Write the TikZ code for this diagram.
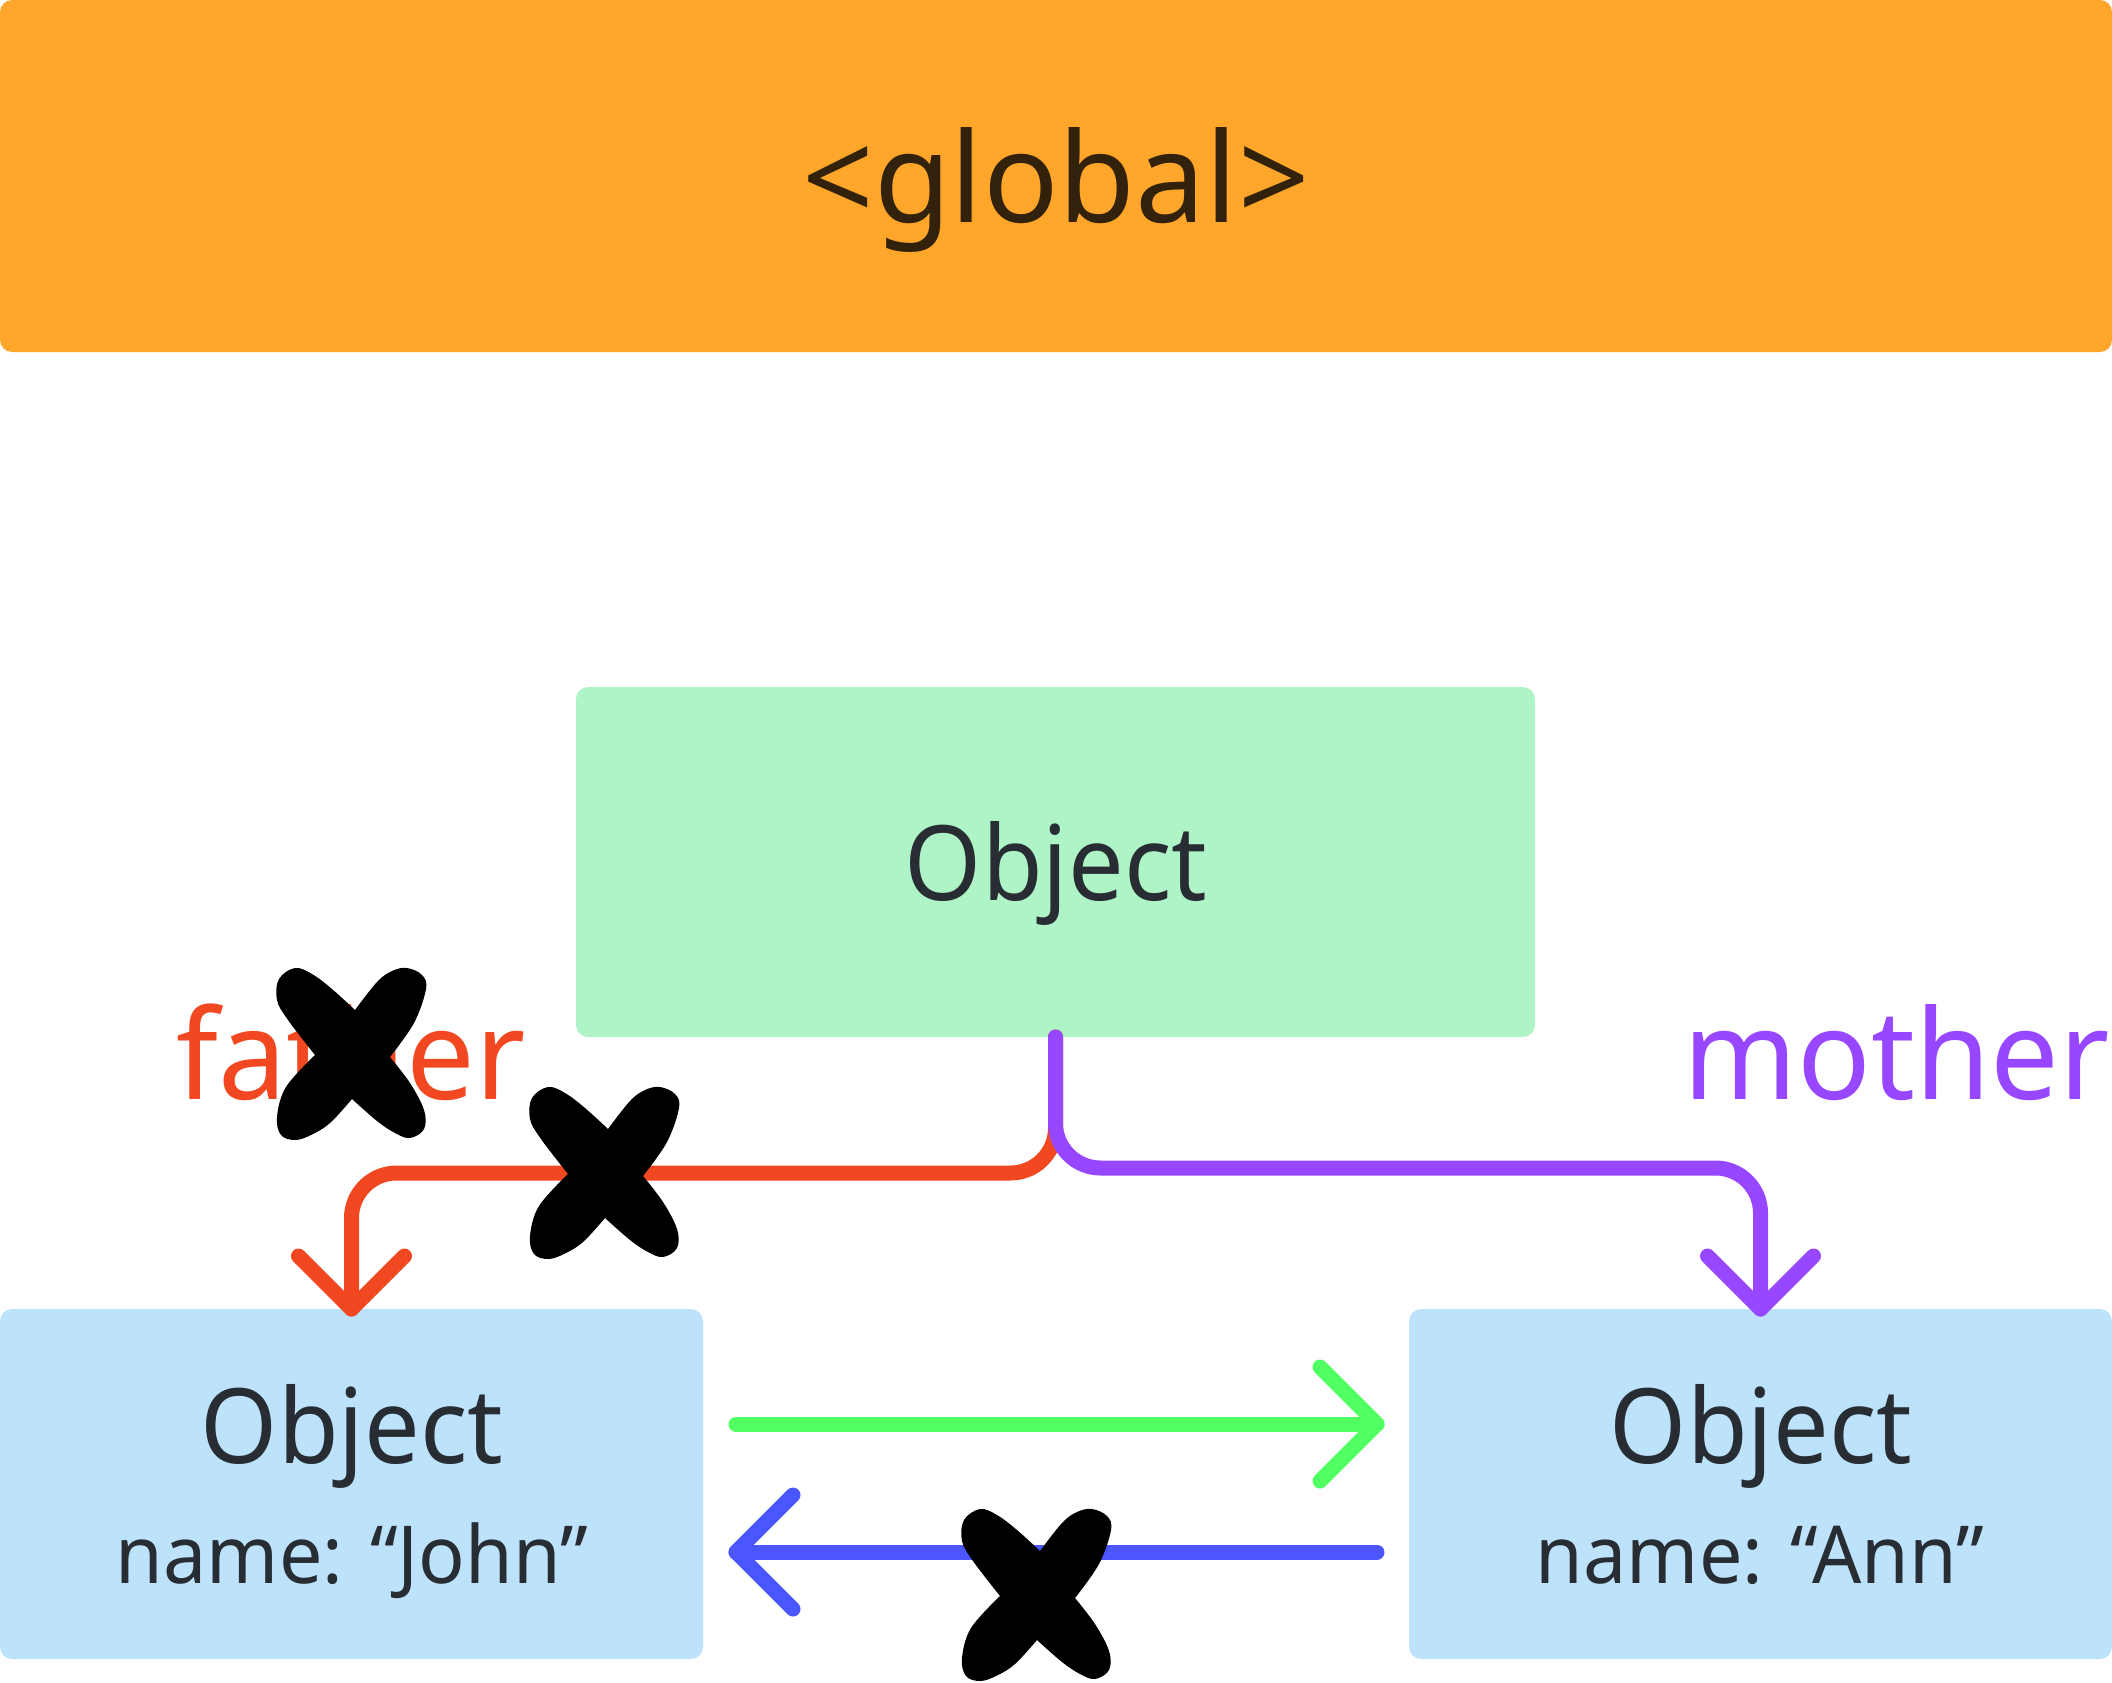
\documentclass[tikz,border=0pt]{standalone}
\usepackage{fontspec}
\setmainfont{Noto Sans}
\newfontfamily\myObjFam{Noto Sans}[FakeStretch=0.95]
\newfontfamily\myNameFam{Noto Sans}[FakeStretch=0.965]
\newfontfamily\myLabFam{Noto Sans}[FakeStretch=0.975]
\definecolor{orangebar}{HTML}{FFA62B}
\definecolor{globtext}{HTML}{33220B}
\definecolor{objgreen}{HTML}{AFF4C6}
\definecolor{objblue}{HTML}{BDE3FC}
\definecolor{darktext}{HTML}{272D33}
\definecolor{redc}{HTML}{F24822}
\definecolor{purc}{HTML}{9747FF}
\definecolor{greenc}{HTML}{50FF62}
\definecolor{bluec}{HTML}{4B56FF}
\newcommand\myBigFont{\fontsize{125}{130}\selectfont}
\newcommand\myLabFont{\myLabFam\fontsize{125}{130}\selectfont}
\newcommand\myObjFont{\myObjFam\fontsize{104}{110}\selectfont}
\newcommand\myNameFont{\myNameFam\fontsize{80}{86}\selectfont}
\begin{document}
\begin{tikzpicture}[x=1pt,y=-1pt]
\tikzset{
  boxbase/.style={draw=none, rounded corners=12pt, inner sep=0pt, outer sep=0pt},
  bigtxt/.style={anchor=base, inner sep=0pt, font=\myBigFont},
  labtxt/.style={anchor=base, inner sep=0pt, font=\myLabFont},
  objtxt/.style={anchor=base, inner sep=0pt, font=\myObjFont, text=darktext},
  nametxt/.style={anchor=base, inner sep=0pt, font=\myNameFont, text=darktext},
  conn/.style={line width=15pt, line cap=round, line join=round},
  xmark/.pic={\fill[black]
     plot[smooth, tension=0.6] coordinates {(-37,0) (-64,-35) (-75,-55) (-73,-76) (-57,-87) (-40,-81) (-20,-66) (3,-45)}
  -- plot[smooth, tension=0.6] coordinates {(3,-45) (25,-73) (40,-84) (55,-87) (70,-80) (74,-66) (62,-32) (38,2)}
  -- plot[smooth, tension=0.6] coordinates {(38,2) (58,28) (72,55) (72,74) (58,83) (43,78) (25,66) (0,44)}
  -- plot[smooth, tension=0.6] coordinates {(0,44) (-22,68) (-41,80) (-57,85) (-71,80) (-75,62) (-66,32) (-37,0)}
  -- cycle;}
}
\useasboundingbox (0,0) rectangle (2112,1683);
% boxes
\node[boxbase, fill=orangebar, minimum width=2112pt, minimum height=352pt] (glob) at (1056,176) {};
\node[bigtxt, text=globtext] (globt) at (1056,222) {<global>};
\node[boxbase, fill=objgreen, minimum width=959pt, minimum height=350pt] (obj) at (1055.5,862) {};
\node[objtxt] (objt) at (1056,900) {Object};
\node[boxbase, fill=objblue, minimum width=703pt, minimum height=350pt] (john) at (351.5,1484) {};
\node[objtxt] (johnt) at (352,1463) {Object};
\node[nametxt] (johnn) at (352,1583) {name: “John”};
\node[boxbase, fill=objblue, minimum width=703pt, minimum height=350pt] (ann) at (1760.5,1484) {};
\node[objtxt] (annt) at (1761,1463) {Object};
\node[nametxt] (annn) at (1760,1583) {name: “Ann”};
% labels
\node[labtxt, text=redc] (father) at (351,1099) {father};
\node[labtxt, text=purc] (mother) at (1897,1099) {mother};
% father connector
\draw[conn, redc, rounded corners=45pt] (obj.south) -- ++(0,136) -| (john.north);
\draw[conn, redc] ([shift={(-53,-53)}]john.north) -- (john.north) -- ([shift={(53,-53)}]john.north);
% mother connector
\draw[conn, purc, rounded corners=45pt] (obj.south) -- ++(0,131) -| (ann.north);
\draw[conn, purc] ([shift={(-53,-53)}]ann.north) -- (ann.north) -- ([shift={(53,-53)}]ann.north);
% horizontal arrows
\coordinate (gs) at ([xshift=33pt,yshift=60pt]john.east);
\coordinate (ge) at ([xshift=-32pt,yshift=60pt]ann.west);
\draw[conn, greenc] (gs) -- (ge);
\draw[conn, greenc] ([shift={(-57,-57)}]ge) -- (ge) -- ([shift={(-57,57)}]ge);
\coordinate (bs) at ([xshift=-32pt,yshift=-68pt]ann.west);
\coordinate (be) at ([xshift=33pt,yshift=-68pt]john.east);
\draw[conn, bluec] (bs) -- (be);
\draw[conn, bluec] ([shift={(57,-57)}]be) -- (be) -- ([shift={(57,57)}]be);
% crosses
\pic at (352,1055) {xmark};
\pic at (605,1174) {xmark};
\pic at (1037,1596) {xmark};
\end{tikzpicture}
\end{document}
